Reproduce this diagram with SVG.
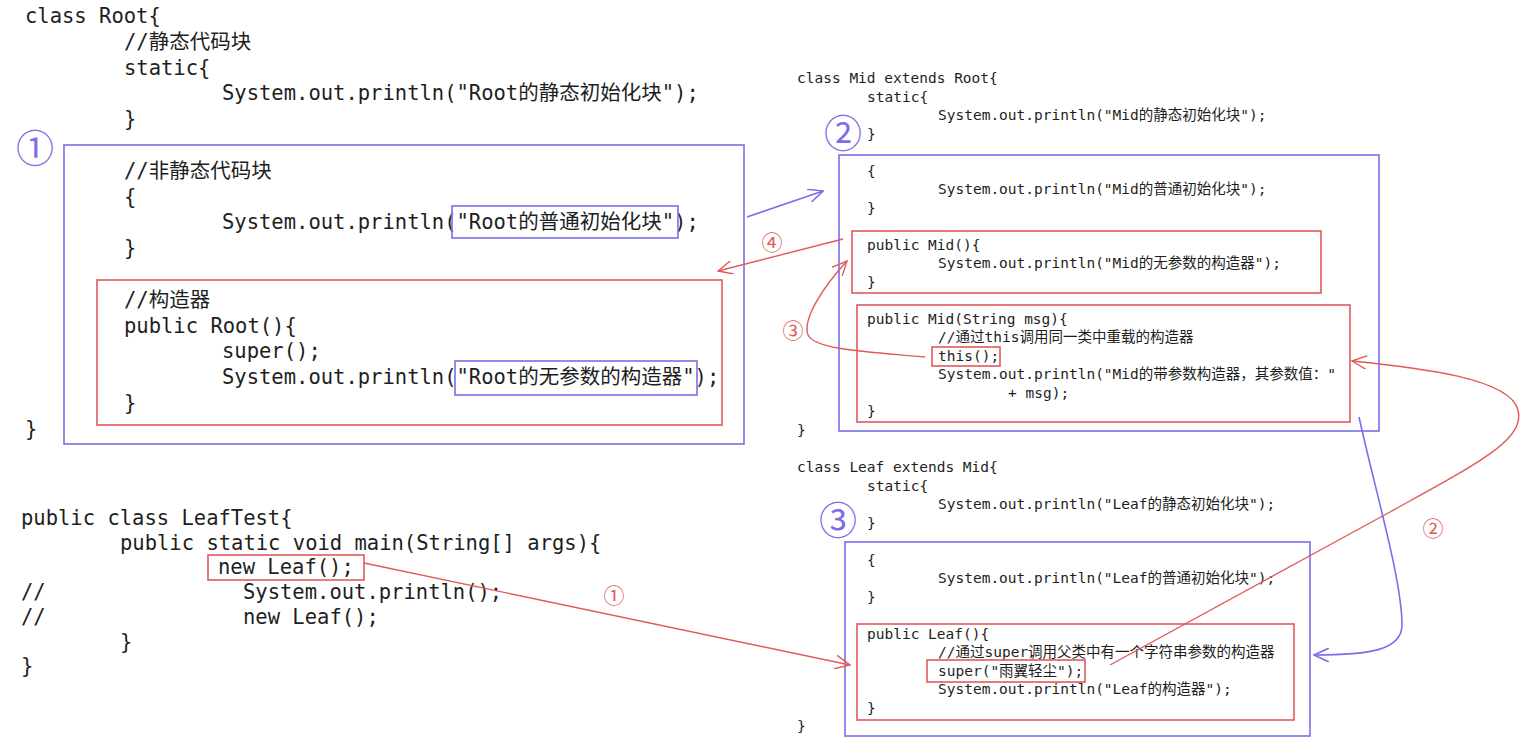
<svg xmlns="http://www.w3.org/2000/svg" width="1523" height="753" viewBox="0 0 1523 753">
<style>
text{fill:#1e1e1e;white-space:pre}
.L{font-family:"DejaVu Sans Mono","Noto Sans CJK SC",monospace;font-size:20.5px}
.R{font-family:"DejaVu Sans Mono","Noto Sans CJK SC",monospace;font-size:14.5px}
.pb{fill:none;stroke:#7b6ee8;stroke-width:1.6}
.rb{fill:none;stroke:#e05a5a;stroke-width:1.6}
.bignum{font-family:"Noto Sans CJK SC",sans-serif;font-size:38px;fill:#7b6ee8;text-anchor:middle}
.smnum{font-family:"Noto Sans CJK SC",sans-serif;font-size:21px;fill:#e05a5a;text-anchor:middle}
.rc{fill:none;stroke:#e05a5a;stroke-width:1.4}
.pc{fill:none;stroke:#7b6ee8;stroke-width:1.6}
</style>
<defs>
<marker id="ar" viewBox="0 0 16 14" refX="15" refY="7" markerWidth="16" markerHeight="14" markerUnits="userSpaceOnUse" orient="auto"><path d="M0,0 L15,7 L0,14" fill="none" stroke="#e05a5a" stroke-width="1.4"/></marker>
<marker id="ap" viewBox="0 0 16 14" refX="15" refY="7" markerWidth="16" markerHeight="14" markerUnits="userSpaceOnUse" orient="auto"><path d="M0,0 L15,7 L0,14" fill="none" stroke="#7b6ee8" stroke-width="1.6"/></marker>
</defs>
<rect width="1523" height="753" fill="#ffffff"/>

<g id="root-class">
<text class="L" x="25" y="23">class Root{</text>
<text class="L" x="124" y="48.8">//静态代码块</text>
<text class="L" x="124" y="74.6">static{</text>
<text class="L" x="222" y="100.4">System.out.println("Root的静态初始化块");</text>
<text class="L" x="124" y="126">}</text>
<text class="L" x="25" y="436">}</text>
</g>

<g id="root-block1">
<rect class="pb" x="64" y="145" width="680" height="299"/>
<text class="bignum" x="35" y="162">①</text>
<text class="L" x="124" y="177.8">//非静态代码块</text>
<text class="L" x="124" y="203.6">{</text>
<text class="L" x="222" y="229.4">System.out.println("Root的普通初始化块");</text>
<rect class="pb" x="452" y="206" width="226" height="32"/>
<text class="L" x="124" y="255">}</text>
</g>

<g id="root-ctor">
<rect class="rb" x="97" y="280" width="625" height="145"/>
<text class="L" x="124" y="306.8">//构造器</text>
<text class="L" x="124" y="332.6">public Root(){</text>
<text class="L" x="222" y="358.4">super();</text>
<text class="L" x="222" y="384.2">System.out.println("Root的无参数的构造器");</text>
<rect class="pb" x="455" y="361" width="242" height="34"/>
<text class="L" x="124" y="410">}</text>
</g>

<g id="leaftest">
<text class="L" x="21" y="525">public class LeafTest{</text>
<text class="L" x="120" y="549.7">public static void main(String[] args){</text>
<text class="L" x="218" y="574.4">new Leaf();</text>
<rect class="rb" x="208" y="555" width="156" height="25"/>
<text class="L" x="21" y="599.1">//</text>
<text class="L" x="243" y="599.1">System.out.println();</text>
<text class="L" x="21" y="623.8">//</text>
<text class="L" x="243" y="623.8">new Leaf();</text>
<text class="L" x="120" y="648.5">}</text>
<text class="L" x="21" y="673.2">}</text>
</g>

<g id="mid-class">
<text class="R" x="797" y="83">class Mid extends Root{</text>
<text class="R" x="867" y="101.5">static{</text>
<text class="R" x="938" y="120">System.out.println("Mid的静态初始化块");</text>
<text class="R" x="867" y="138.5">}</text>
<text class="bignum" x="843" y="147">②</text>
<rect class="pb" x="839" y="155" width="540" height="276"/>
<text class="R" x="867" y="175.5">{</text>
<text class="R" x="938" y="194">System.out.println("Mid的普通初始化块");</text>
<text class="R" x="867" y="212.5">}</text>
<text class="R" x="797" y="434.5">}</text>
</g>

<g id="mid-ctor">
<rect class="rb" x="852" y="231" width="469" height="62"/>
<text class="R" x="867" y="249.5">public Mid(){</text>
<text class="R" x="938" y="268">System.out.println("Mid的无参数的构造器");</text>
<text class="R" x="867" y="286.5">}</text>
</g>

<g id="mid-ctor-msg">
<rect class="rb" x="857" y="305" width="493" height="117"/>
<text class="R" x="867" y="323.5">public Mid(String msg){</text>
<text class="R" x="938" y="342">//通过this调用同一类中重载的构造器</text>
<text class="R" x="938" y="360.5">this();</text>
<rect class="rb" x="932" y="347" width="68" height="19"/>
<text class="R" x="938" y="379">System.out.println("Mid的带参数构造器，其参数值："</text>
<text class="R" x="1008" y="397.5">+ msg);</text>
<text class="R" x="867" y="416">}</text>
</g>

<g id="leaf-class">
<text class="R" x="797" y="472">class Leaf extends Mid{</text>
<text class="R" x="867" y="490.5">static{</text>
<text class="R" x="938" y="509">System.out.println("Leaf的静态初始化块");</text>
<text class="R" x="867" y="527.5">}</text>
<text class="bignum" x="838" y="534">③</text>
<rect class="pb" x="845" y="542" width="465" height="194"/>
<text class="R" x="867" y="564.5">{</text>
<text class="R" x="938" y="583">System.out.println("Leaf的普通初始化块");</text>
<text class="R" x="867" y="601.5">}</text>
<text class="R" x="797" y="731">}</text>
</g>

<g id="leaf-ctor">
<rect class="rb" x="857" y="624" width="437" height="96"/>
<text class="R" x="867" y="638.5">public Leaf(){</text>
<text class="R" x="938" y="657">//通过super调用父类中有一个字符串参数的构造器</text>
<text class="R" x="938" y="675.5">super("雨翼轻尘");</text>
<rect class="rb" x="927" y="660" width="158" height="22"/>
<text class="R" x="938" y="694">System.out.println("Leaf的构造器");</text>
<text class="R" x="867" y="712.5">}</text>
</g>

<g id="connectors">
<path class="rc" d="M364,563 L850,665" marker-end="url(#ar)"/>
<text class="smnum" x="614" y="603">①</text>
<path class="rc" d="M1110,665 L1390,512 C1480,462 1525,440 1518,410 C1510,378 1420,368 1352,361" marker-end="url(#ar)"/>
<text class="smnum" x="1433" y="536">②</text>
<path class="pc" d="M1359,417 C1375,490 1402,580 1402,625 C1402,650 1370,655 1314,655" marker-end="url(#ap)"/>
<path class="rc" d="M925,357 C870,352 815,350 808,335 C802,318 825,285 847,261" marker-end="url(#ar)"/>
<text class="smnum" x="793" y="338">③</text>
<path class="rc" d="M843,239 L718,271" marker-end="url(#ar)"/>
<text class="smnum" x="772" y="250">④</text>
<path class="pc" d="M747,217 L823,191" marker-end="url(#ap)"/>
</g>
</svg>
